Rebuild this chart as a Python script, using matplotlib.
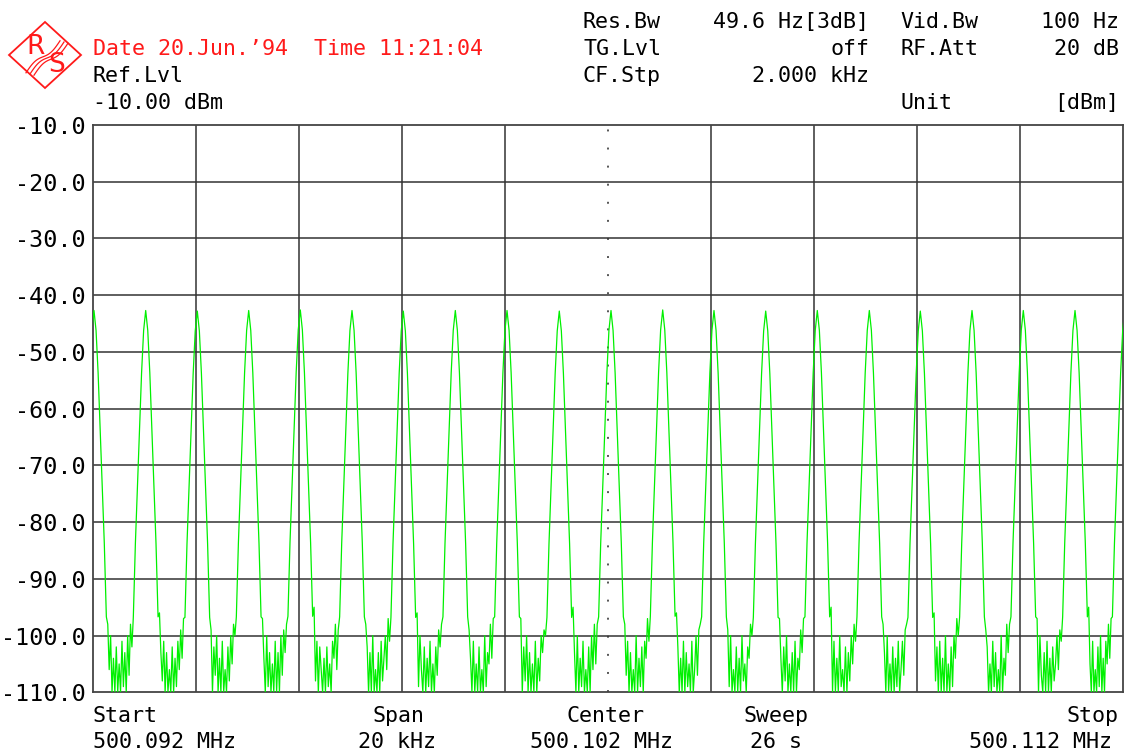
import numpy as np
import matplotlib
matplotlib.use("Agg")
import matplotlib.pyplot as plt
from matplotlib.patches import Polygon

# ---------------- data ----------------
start_mhz = 500.092
center_mhz = 500.102
stop_mhz = 500.112
y_min_dbm = -110.0
y_max_dbm = -10.0
y_ticks = [-10, -20, -30, -40, -50, -60, -70, -80, -90, -100, -110]
y_tick_labels = ["-10.0", "-20.0", "-30.0", "-40.0", "-50.0", "-60.0",
                 "-70.0", "-80.0", "-90.0", "-100.0", "-110.0"]

# comb lines: peak frequency (kHz above start) and level (dBm)
peak_khz = [0.025, 1.029, 2.031, 3.029, 4.031, 5.035, 6.031, 7.041, 8.045,
            9.060, 10.064, 11.068, 12.064, 13.068, 14.070, 15.080, 16.070,
            17.074, 18.070, 19.074, 20.040]
peak_dbm = [-42.7, -42.7, -42.8, -42.7, -42.6, -42.7, -42.8, -42.7, -42.7,
            -42.8, -42.7, -42.6, -42.7, -42.8, -42.7, -42.7, -42.8, -42.7,
            -42.7, -42.7, -42.7]

# shape of one line as drawn by the 49.6 Hz RBW filter (relative dB)
profile_offset_khz = [-0.24, -0.20, -0.16, -0.12, -0.08, -0.04, 0.0,
                      0.04, 0.08, 0.12, 0.16, 0.20, 0.24]
profile_rel_db = [-54, -41, -31, -21, -11, -3.5, 0, -3.5, -11, -21, -31, -41, -54]

# noise floor samples between neighbouring lines (dBm)
noise_gaps_dbm = [
    [-98, -106, -100, -110, -104, -110, -102, -110, -105, -110, -101, -109, -103, -110, -100, -107, -98, -102],
    [-96, -103, -108, -101, -110, -103, -110, -106, -110, -102, -110, -104, -109, -101, -106, -99, -104, -97],
    [-99, -110, -102, -107, -100, -110, -104, -110, -101, -110, -106, -110, -102, -108, -100, -105, -98, -100],
    [-97, -104, -110, -100, -109, -103, -110, -105, -110, -101, -110, -103, -110, -100, -107, -99, -103, -98],
    [-95, -108, -101, -110, -102, -106, -110, -104, -110, -102, -109, -105, -110, -101, -104, -98, -106, -99],
    [-98, -102, -110, -103, -110, -100, -110, -106, -110, -103, -110, -101, -108, -104, -100, -106, -97, -101],
    [-96, -109, -100, -106, -110, -102, -110, -104, -109, -101, -110, -105, -110, -102, -107, -99, -102, -98],
    [-99, -104, -110, -101, -110, -105, -110, -102, -110, -106, -110, -100, -109, -103, -105, -98, -104, -97],
    [-97, -110, -102, -108, -100, -110, -103, -110, -105, -110, -101, -110, -104, -108, -100, -103, -99, -100],
    [-95, -103, -110, -100, -110, -104, -109, -101, -110, -106, -110, -102, -110, -100, -106, -98, -105, -98],
    [-98, -107, -101, -110, -103, -110, -106, -110, -100, -110, -104, -109, -102, -110, -101, -104, -97, -101],
    [-96, -102, -110, -104, -110, -101, -110, -103, -109, -105, -110, -101, -110, -106, -100, -107, -99, -98],
    [-99, -109, -100, -110, -106, -110, -102, -110, -104, -110, -100, -108, -105, -110, -102, -104, -98, -100],
    [-97, -104, -110, -102, -108, -100, -110, -105, -110, -103, -110, -101, -110, -104, -106, -99, -103, -97],
    [-95, -110, -101, -110, -104, -110, -100, -109, -106, -110, -102, -110, -103, -108, -100, -105, -98, -101],
    [-98, -103, -110, -100, -110, -105, -110, -102, -110, -104, -109, -101, -110, -106, -101, -107, -99, -98],
    [-96, -108, -102, -110, -101, -110, -104, -110, -100, -110, -105, -110, -102, -109, -100, -104, -97, -100],
    [-99, -102, -110, -105, -110, -101, -109, -103, -110, -106, -110, -100, -110, -104, -107, -98, -103, -98],
    [-97, -110, -100, -107, -110, -103, -110, -101, -110, -104, -110, -102, -108, -105, -100, -106, -99, -101],
    [-95, -105, -110, -101, -110, -106, -110, -102, -109, -100, -110, -104, -110, -101, -105, -98, -104, -97],
]

# ---------------- build the trace ----------------
trace_khz, trace_dbm = [], []
for i, (pk, lv) in enumerate(zip(peak_khz, peak_dbm)):
    trace_khz += [pk + o for o in profile_offset_khz]
    trace_dbm += [lv + r for r in profile_rel_db]
    if i < len(noise_gaps_dbm):
        a = pk + profile_offset_khz[-1]
        b = peak_khz[i + 1] + profile_offset_khz[0]
        n = len(noise_gaps_dbm[i])
        trace_khz += list(np.linspace(a, b, n + 2)[1:-1])
        trace_dbm += noise_gaps_dbm[i]
trace_mhz = start_mhz + np.array(trace_khz) / 1000.0

# ---------------- figure ----------------
W, H = 1126, 753
fig = plt.figure(figsize=(W / 100, H / 100), dpi=100)
fig.patch.set_facecolor("white")
MONO = "DejaVu Sans Mono"
FS = 15.6

L, R, T, B = 92.7, 1122.7, 125.0, 692.3
ax = fig.add_axes([L / W, 1 - B / H, (R - L) / W, (B - T) / H])
ax.set_xlim(start_mhz, stop_mhz)
ax.set_ylim(y_min_dbm, y_max_dbm)

grid_col = "#333333"
for k in range(1, 10):
    xg = start_mhz + k * (stop_mhz - start_mhz) / 10
    if k == 5:
        ax.axvline(xg, color="#555555", lw=1.4, linestyle=(0, (1, 8.3)), zorder=1)
    else:
        ax.axvline(xg, color=grid_col, lw=1.1, zorder=1)
for yv in y_ticks[1:-1]:
    ax.axhline(yv, color=grid_col, lw=1.1, zorder=1)

ax.plot(trace_mhz, trace_dbm, color="#00f000", lw=0.9, zorder=3)

ax.set_yticks(y_ticks)
ax.set_yticklabels(y_tick_labels, family=MONO, fontsize=16.8)
ax.set_xticks([])
ax.tick_params(axis="y", length=0, pad=5)
for s in ax.spines.values():
    s.set_color("#444444")
    s.set_linewidth(1.3)


def ftxt(x, y, s, ha="left", color="black"):
    fig.text(x / W, 1 - y / H, s, ha=ha, va="baseline", family=MONO,
             fontsize=FS, color=color)


RED = "#ff1a1a"
# header
ftxt(93, 55, "Date 20.Jun.\u201994  Time 11:21:04", color=RED)
ftxt(93, 82, "Ref.Lvl")
ftxt(93, 109, "-10.00 dBm")

ftxt(583, 28, "Res.Bw")
ftxt(869, 28, "49.6 Hz[3dB]", ha="right")
ftxt(900, 28, "Vid.Bw")
ftxt(1119, 28, "100 Hz", ha="right")

ftxt(583, 55, "TG.Lvl")
ftxt(869, 55, "off", ha="right")
ftxt(900, 55, "RF.Att")
ftxt(1119, 55, "20 dB", ha="right")

ftxt(583, 82, "CF.Stp")
ftxt(869, 82, "2.000 kHz", ha="right")

ftxt(900, 109, "Unit")
ftxt(1119, 109, "[dBm]", ha="right")

# footer
ftxt(93, 722, "Start")
ftxt(93, 748, "500.092 MHz")
ftxt(399, 722, "Span", ha="center")
ftxt(397, 748, "20 kHz", ha="center")
ftxt(605, 722, "Center", ha="center")
ftxt(602, 748, "500.102 MHz", ha="center")
ftxt(776, 722, "Sweep", ha="center")
ftxt(776, 748, "26 s", ha="center")
ftxt(1119, 722, "Stop", ha="right")
ftxt(1112, 748, "500.112 MHz", ha="right")

# R&S logo (decoration)
def P(x, y):
    return (x / W, 1 - y / H)

diamond = Polygon([P(9, 55), P(45, 22), P(81, 55), P(45, 88)], closed=True,
                  fill=False, edgecolor=RED, lw=1.3, transform=fig.transFigure)
fig.patches.append(diamond)
fig.text(36 / W, 1 - 47 / H, "R", ha="center", va="center", family="DejaVu Sans",
         fontsize=19, color=RED)
fig.text(57 / W, 1 - 65 / H, "S", ha="center", va="center", family="DejaVu Sans",
         fontsize=19, color=RED)
tt = np.linspace(0, 1, 30)
for d in (-4, 0, 4):
    xs = 64 - 34 * tt + d
    ys = 42 + 32 * tt + 3 * np.sin(tt * 2 * np.pi) + d * 0.3
    fig.lines.append(plt.Line2D(xs / W, 1 - ys / H, color=RED, lw=0.9,
                                transform=fig.transFigure))

fig.savefig("out.png", dpi=100, facecolor="white")
